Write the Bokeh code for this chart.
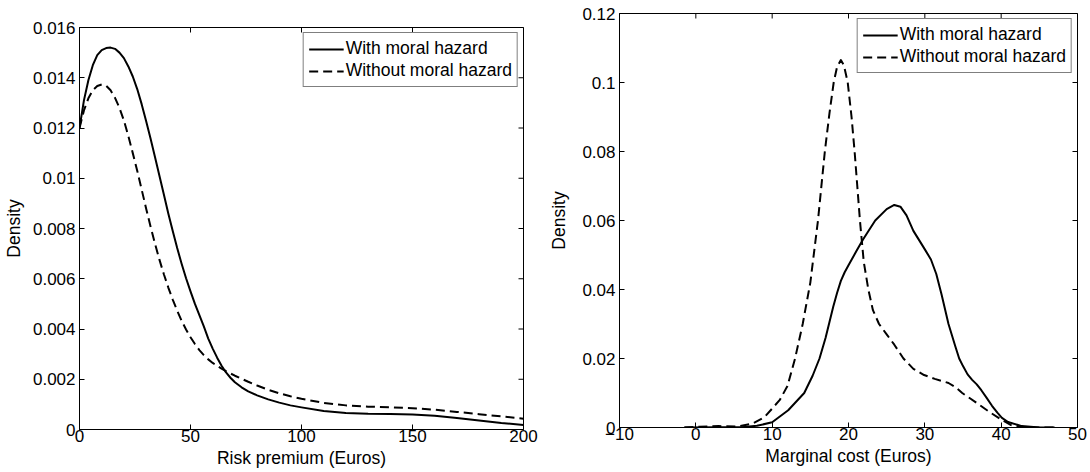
import math
from bokeh.plotting import figure
from bokeh.layouts import row
from bokeh.models import FixedTicker, Range1d
from bokeh.embed import file_html
from bokeh.resources import INLINE

# ---------------- Left panel: risk premium ----------------
rp_x = [0, 2, 4, 6, 8, 10, 12, 14, 16, 18, 20, 22, 24, 26, 28, 30, 32, 34, 36, 38,
        40, 42, 44, 46, 48, 50, 52, 54, 56, 58, 60, 62, 64, 66, 68, 70, 73, 76, 80,
        85, 90, 95, 100, 110, 120, 130, 140, 150, 160, 170, 180, 190, 200]
rp_with = [0.01200, 0.01310, 0.01390, 0.01450, 0.01490, 0.01510, 0.01518, 0.01520,
           0.01515, 0.01500, 0.01478, 0.01445, 0.01405, 0.01355, 0.01295, 0.01228,
           0.01158, 0.01085, 0.01010, 0.00935, 0.00860, 0.00790, 0.00722, 0.00660,
           0.00602, 0.00550, 0.00500, 0.00455, 0.00410, 0.00362, 0.00322, 0.00286,
           0.00254, 0.00227, 0.00206, 0.00188, 0.00168, 0.00152, 0.00136, 0.00120,
           0.00107, 0.00096, 0.00088, 0.00074, 0.00066, 0.00063, 0.00062, 0.00060,
           0.00055, 0.00046, 0.00036, 0.00026, 0.00018]
rp_without = [0.01200, 0.01270, 0.01318, 0.01350, 0.01367, 0.01373, 0.01368, 0.01350,
              0.01320, 0.01280, 0.01230, 0.01168, 0.01100, 0.01030, 0.00955, 0.00880,
              0.00808, 0.00740, 0.00676, 0.00618, 0.00565, 0.00517, 0.00473, 0.00433,
              0.00398, 0.00367, 0.00340, 0.00316, 0.00296, 0.00279, 0.00265, 0.00253,
              0.00242, 0.00232, 0.00223, 0.00214, 0.00202, 0.00190, 0.00175, 0.00158,
              0.00144, 0.00132, 0.00122, 0.00106, 0.00096, 0.00091, 0.00088, 0.00085,
              0.00079, 0.00070, 0.00061, 0.00052, 0.00043]
rp_xticks = [0, 50, 100, 150, 200]
rp_xtick_labels = ["0", "50", "100", "150", "200"]
rp_yticks = [0, 0.002, 0.004, 0.006, 0.008, 0.01, 0.012, 0.014, 0.016]
rp_ytick_labels = ["0", "0.002", "0.004", "0.006", "0.008", "0.01", "0.012", "0.014", "0.016"]

# ---------------- Right panel: marginal cost ----------------
mc_x_with = [-1.5, 3, 6, 8, 10, 12.1, 14.2, 15.3, 16.2, 17.0, 17.5, 18.0, 18.5, 19.0,
             19.5, 20.0, 21.0, 21.9, 23.5, 25.0, 26.0, 26.8, 27.6, 28.5, 29.9, 30.8,
             31.5, 32.2, 33.1, 34.0, 34.5, 35.0, 35.6, 36.2, 36.8, 37.4, 38.1, 38.8,
             39.5, 40.1, 40.9, 42.7, 45.0, 47.0]
mc_with = [0.0, 0.0001, 0.0001, 0.0005, 0.0015, 0.0050, 0.0100, 0.0150, 0.0200, 0.0260,
           0.0305, 0.0350, 0.0390, 0.0425, 0.0450, 0.0470, 0.0510, 0.0545, 0.0600,
           0.0633, 0.0645, 0.0640, 0.0615, 0.0570, 0.0520, 0.0487, 0.0445, 0.0385,
           0.0300, 0.0235, 0.0200, 0.0178, 0.0154, 0.0138, 0.0125, 0.0108, 0.0086,
           0.0063, 0.0043, 0.0028, 0.0016, 0.0004, 0.0, 0.0]
mc_x_without = [-1.5, 0.5, 3, 5.5, 7.5, 9, 10, 11, 12, 13, 14, 15, 16, 16.9, 17.5, 18.06,
                18.5, 19, 19.4, 19.9, 20.4, 20.8, 21.5, 22.0, 22.6, 23.2, 24.0, 25.0,
                26.0, 27.2, 28.5, 29.9, 31.3, 33.1, 34.0, 34.9, 36.8, 38.6, 40.0, 41.3,
                43.1, 45.0, 47.3]
mc_without = [0.0, 0.0002, 0.0004, 0.0003, 0.0012, 0.0030, 0.0055, 0.0080, 0.0120,
              0.0200, 0.0300, 0.0420, 0.0600, 0.0800, 0.0910, 0.1000, 0.1045, 0.1065,
              0.1050, 0.1000, 0.0900, 0.0800, 0.0600, 0.0480, 0.0400, 0.0340, 0.0300,
              0.0270, 0.0240, 0.0200, 0.0170, 0.0152, 0.0141, 0.0129, 0.0117, 0.0100,
              0.0071, 0.0043, 0.0023, 0.0007, 0.0001, 0.0, 0.0]
mc_xticks = [-10, 0, 10, 20, 30, 40, 50]
mc_xtick_labels = ["\u221210", "0", "10", "20", "30", "40", "50"]
mc_yticks = [0, 0.02, 0.04, 0.06, 0.08, 0.1, 0.12]
mc_ytick_labels = ["0", "0.02", "0.04", "0.06", "0.08", "0.1", "0.12"]

series_names = ["With moral hazard", "Without moral hazard"]

FONT = "Liberation Sans"
FS = "17px"
FS_LABEL = "17.5px"


def style_axis(ax, ticks, labels):
    ax.ticker = FixedTicker(ticks=ticks)
    ax.major_tick_in = 5
    ax.major_tick_out = 0
    ax.minor_tick_in = 0
    ax.minor_tick_out = 0
    ax.axis_line_color = "black"
    ax.axis_line_width = 1
    ax.major_tick_line_color = "black"
    ax.major_label_text_font = FONT
    ax.major_label_text_font_size = FS
    ax.major_label_text_color = "black"
    ax.major_label_overrides = {t: l for t, l in zip(ticks, labels)}
    ax.axis_label_text_font = FONT
    ax.axis_label_text_font_size = FS_LABEL
    ax.axis_label_text_font_style = "normal"
    ax.axis_label_text_color = "black"


def panel(xr, yr, xticks, xlabels, yticks, ylabels, xtitle, curves,
          width, height, bl, br, bt, ylab_standoff):
    p = figure(width=width, height=height, x_range=Range1d(*xr), y_range=Range1d(*yr),
               output_backend="svg", toolbar_location=None,
               min_border_left=bl, min_border_right=br, min_border_top=bt,
               min_border_bottom=0)
    p.frame_align = False
    p.grid.visible = False
    p.outline_line_color = "black"
    p.outline_line_width = 1
    p.background_fill_color = "white"
    p.border_fill_color = "white"

    style_axis(p.xaxis[0], xticks, xlabels)
    p.xaxis[0].axis_label = xtitle
    p.xaxis[0].major_label_standoff = 0
    p.xaxis[0].axis_label_standoff = 3
    style_axis(p.yaxis[0], yticks, ylabels)
    p.yaxis[0].axis_label = "Density"
    p.yaxis[0].major_label_standoff = 4
    p.yaxis[0].axis_label_standoff = ylab_standoff

    # inward tick marks on the top and right edges of the box
    p.scatter(x=xticks, y=[yr[1]] * len(xticks), marker="dash", size=10,
              angle=math.pi / 2, line_color="black", line_width=1)
    p.scatter(x=[xr[1]] * len(yticks), y=yticks, marker="dash", size=10,
              line_color="black", line_width=1)

    for (xs, ys, name, dash) in curves:
        p.line(xs, ys, line_color="black", line_width=2, line_dash=dash,
               line_join="round", legend_label=name)

    lg = p.legend[0]
    lg.location = "top_right"
    lg.margin = 5
    lg.padding = 5
    lg.spacing = 1
    lg.glyph_width = 35
    lg.glyph_height = 18
    lg.label_height = 18
    lg.label_standoff = 2
    lg.label_text_font = FONT
    lg.label_text_font_size = FS_LABEL
    lg.label_text_color = "black"
    lg.border_line_color = "black"
    lg.border_line_width = 1
    lg.background_fill_color = "white"
    lg.background_fill_alpha = 1.0
    return p


p1 = panel((0, 200), (0, 0.016), rp_xticks, rp_xtick_labels, rp_yticks, rp_ytick_labels,
           "Risk premium (Euros)",
           [(rp_x, rp_with, series_names[0], "solid"),
            (rp_x, rp_without, series_names[1], "9 5")],
           width=545, height=470, bl=79, br=22, bt=27, ylab_standoff=6)

p2 = panel((-10, 50), (0, 0.12), mc_xticks, mc_xtick_labels, mc_yticks, mc_ytick_labels,
           "Marginal cost (Euros)",
           [(mc_x_with, mc_with, series_names[0], "solid"),
            (mc_x_without, mc_without, series_names[1], "9 5")],
           width=545, height=468, bl=74, br=13, bt=13, ylab_standoff=10)

layout = row(p1, p2)
open("out.html", "w").write(file_html(layout, INLINE))
